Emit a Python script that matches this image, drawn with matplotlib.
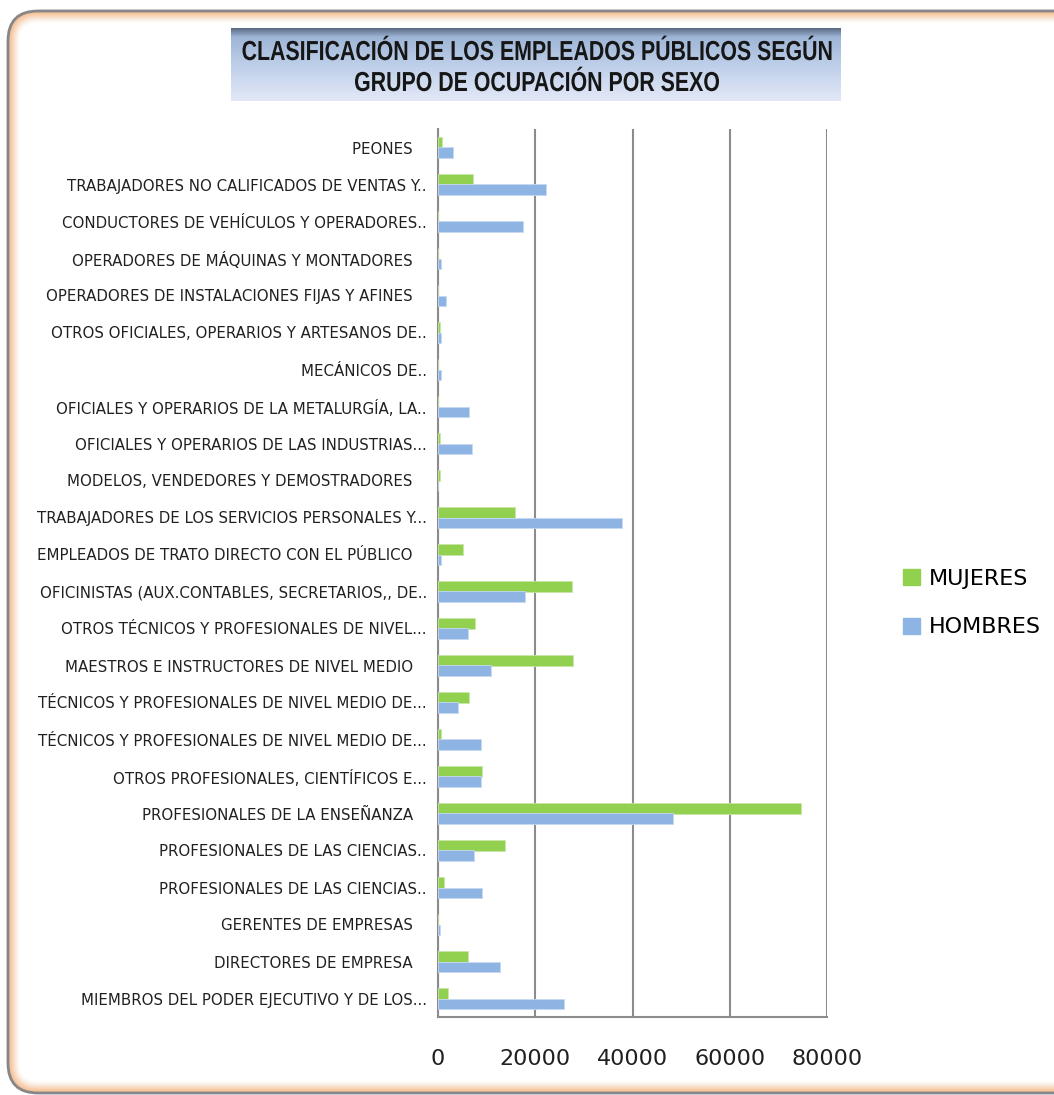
import numpy as np
import matplotlib
matplotlib.use("Agg")
import matplotlib.pyplot as plt
from matplotlib.patches import FancyBboxPatch, Patch, PathPatch
from matplotlib.textpath import TextPath
from matplotlib.font_manager import FontProperties
from matplotlib.transforms import Affine2D

# categories listed from top of the chart to the bottom
ocupaciones = [
    "PEONES ",
    "TRABAJADORES NO CALIFICADOS DE VENTAS Y..",
    "CONDUCTORES DE VEHÍCULOS Y OPERADORES..",
    "OPERADORES DE MÁQUINAS Y MONTADORES ",
    "OPERADORES DE INSTALACIONES FIJAS Y AFINES ",
    "OTROS OFICIALES, OPERARIOS Y ARTESANOS DE..",
    "MECÁNICOS DE..",
    "OFICIALES Y OPERARIOS DE LA METALURGÍA, LA..",
    "OFICIALES Y OPERARIOS DE LAS INDUSTRIAS...",
    "MODELOS, VENDEDORES Y DEMOSTRADORES ",
    "TRABAJADORES DE LOS SERVICIOS PERSONALES Y...",
    "EMPLEADOS DE TRATO DIRECTO CON EL PÚBLICO ",
    "OFICINISTAS (AUX.CONTABLES, SECRETARIOS,, DE..",
    "OTROS TÉCNICOS Y PROFESIONALES DE NIVEL...",
    "MAESTROS E INSTRUCTORES DE NIVEL MEDIO ",
    "TÉCNICOS Y PROFESIONALES DE NIVEL MEDIO DE...",
    "TÉCNICOS Y PROFESIONALES DE NIVEL MEDIO DE...",
    "OTROS PROFESIONALES, CIENTÍFICOS E...",
    "PROFESIONALES DE LA ENSEÑANZA ",
    "PROFESIONALES DE LAS CIENCIAS..",
    "PROFESIONALES DE LAS CIENCIAS..",
    "GERENTES DE EMPRESAS ",
    "DIRECTORES DE EMPRESA ",
    "MIEMBROS DEL PODER EJECUTIVO Y DE LOS...",
]

mujeres = [900, 7250, 0, 0, 0, 400, 0, 0, 400, 400, 15900, 5100,
           27500, 7700, 27800, 6400, 700, 9100, 74600, 13800, 1200, 0, 6200, 2000]
hombres = [3000, 22200, 17500, 700, 1700, 700, 700, 6400, 7000, 0, 37800, 700,
           17800, 6200, 10900, 4100, 8800, 8800, 48300, 7500, 9100, 400, 12800, 25900]

x_ticks = [0, 20000, 40000, 60000, 80000]

titulo = ["CLASIFICACIÓN DE LOS EMPLEADOS PÚBLICOS SEGÚN",
          "GRUPO DE OCUPACIÓN POR SEXO"]

W, H = 1054, 1095
fig = plt.figure(figsize=(W / 100, H / 100), dpi=100)

# background layer in pixel coordinates
bg = fig.add_axes([0, 0, 1, 1])
bg.set_xlim(0, W)
bg.set_ylim(H, 0)
bg.axis("off")

# outer rounded frame: orange glow inside a grey border
x0, y0 = 8, 11
fw, fh = W + 60, 1093 - y0
for i in range(12):
    bg.add_patch(FancyBboxPatch((x0 + i, y0 + i), fw - 2 * i, fh - 2 * i,
                                boxstyle="round,pad=0,rounding_size=%d" % (30 - i),
                                fc="none", ec="#f4a96c", lw=1.6,
                                alpha=0.55 * (1 - i / 12) ** 1.5))
bg.add_patch(FancyBboxPatch((x0, y0), fw, fh, boxstyle="round,pad=0,rounding_size=30",
                            fc="none", ec="#85878b", lw=2))

# title box with vertical gradient
stops = [0.0, 0.12, 0.5, 1.0]
cols = np.array([[0.36, 0.42, 0.52], [0.62, 0.71, 0.84],
                 [0.74, 0.81, 0.91], [0.89, 0.91, 0.97]])
t = np.linspace(0, 1, 100)
grad = np.stack([np.interp(t, stops, cols[:, k]) for k in range(3)], axis=1)
bg.imshow(grad[:, None, :], extent=[231, 841, 101, 28], aspect="auto", zorder=2)

# the title font is narrow, so squeeze a normal bold font horizontally
fp = FontProperties(family="Liberation Sans", weight="bold")
paths = [TextPath((0, 0), s, size=27.5, prop=fp) for s in titulo]
sx = 589 / paths[0].get_extents().width
for p, cy in zip(paths, [50, 81]):
    ext = p.get_extents()
    tr = Affine2D().translate(-(ext.x0 + ext.x1) / 2, -10).scale(sx, -1).translate(537, cy)
    bg.add_patch(PathPatch(tr.transform_path(p), fc="#161616", ec="none", zorder=3))

# bar chart
ax = fig.add_axes([438 / W, 1 - 1017 / H, (827 - 438) / W, (1017 - 129) / H])
n = len(ocupaciones)
y = np.arange(n)[::-1]
h = 0.28
ax.barh(y + h / 2, mujeres, height=h, color="#92D050", edgecolor="#c9e6a8", lw=0.6,
        label="MUJERES", zorder=3)
ax.barh(y - h / 2, hombres, height=h, color="#8EB4E3", edgecolor="#c6d9f1", lw=0.6,
        label="HOMBRES", zorder=3)

ax.set_ylim(-0.5, n - 0.5)
ax.set_xlim(0, 80000)
ax.set_yticks(y)
labels = [s + "  " if s.endswith(" ") else s for s in ocupaciones]
ax.set_yticklabels(labels, fontsize=10.8, color="#202020")
ax.set_xticks(x_ticks)
ax.set_xticklabels([str(v) for v in x_ticks], fontsize=16, color="#202020")
ax.tick_params(axis="y", length=0, pad=8)
ax.tick_params(axis="x", length=0, pad=23)
ax.grid(axis="x", color="#8c8c8c", lw=1.5, zorder=0)
for s in ["top", "right"]:
    ax.spines[s].set_visible(False)
for s in ["left", "bottom"]:
    ax.spines[s].set_color("#8c8c8c")
    ax.spines[s].set_linewidth(1.5)

handles = [Patch(color="#92D050", label="MUJERES"), Patch(color="#8EB4E3", label="HOMBRES")]
fig.legend(handles=handles, loc="center left", bbox_to_anchor=(883 / W, 1 - 603 / H),
           frameon=False, fontsize=16, handlelength=0.75, handleheight=0.75,
           handletextpad=0.4, labelspacing=1.3)

fig.savefig("out.png", dpi=100)
